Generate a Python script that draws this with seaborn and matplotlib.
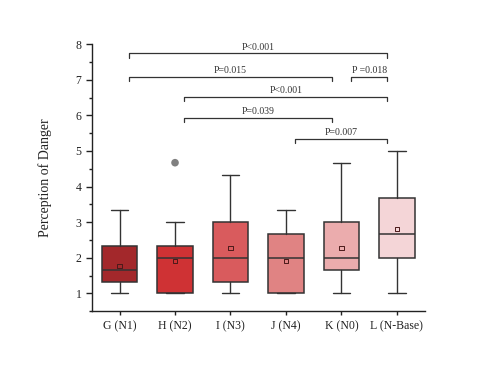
import numpy as np
import matplotlib.pyplot as plt
import seaborn as sns

# Style settings
sns.set_theme(style="ticks")
plt.rcParams['font.family'] = ['Liberation Serif', 'DejaVu Serif']

# --- data ---
groups = ["G (N1)", "H (N2)", "I (N3)", "J (N4)", "K (N0)", "L (N-Base)"]
whislo = [1.0, 1.0, 1.0, 1.0, 1.0, 1.0]
q1 = [1.33, 1.0, 1.33, 1.0, 1.67, 2.0]
med = [1.67, 2.0, 2.0, 2.0, 2.0, 2.67]
q3 = [2.33, 2.33, 3.0, 2.67, 3.0, 3.67]
whishi = [3.33, 3.0, 4.33, 3.33, 4.67, 5.0]
means = [1.78, 1.9, 2.28, 1.92, 2.28, 2.8]
outlier_group = [1]
outlier_value = [4.67]
box_colors = ["#A3282B", "#CF3234", "#D95B5D", "#E08383", "#EBACAD", "#F4D5D7"]

# significance brackets: (left group, right group, height, label)
pairs_left = [0, 0, 4, 1, 1, 3]
pairs_right = [5, 4, 5, 5, 4, 5]
pairs_y = [7.74, 7.08, 7.08, 6.52, 5.92, 5.33]
pairs_text = ["P<0.001", "P=0.015", "P =0.018", "P<0.001", "P=0.039", "P=0.007"]

fig = plt.figure(figsize=(4.99, 3.74), dpi=100)
ax = fig.add_axes([0.184, 0.168, 0.667, 0.714])

pos = np.arange(len(groups))
stats = []
for i in range(len(groups)):
    stats.append(dict(whislo=whislo[i], q1=q1[i], med=med[i], q3=q3[i],
                      whishi=whishi[i], fliers=[], label=groups[i]))

line_c = "#333333"
bp = ax.bxp(stats, positions=pos, widths=0.64, capwidths=0.32, patch_artist=True,
            showfliers=False,
            boxprops=dict(edgecolor=line_c, linewidth=1.1),
            medianprops=dict(color=line_c, linewidth=1.1),
            whiskerprops=dict(color=line_c, linewidth=1.0),
            capprops=dict(color=line_c, linewidth=1.0))
for patch, c in zip(bp["boxes"], box_colors):
    patch.set_facecolor(c)

# means and outliers
sns.scatterplot(x=pos, y=means, marker="s", s=9, facecolor="none",
                edgecolor="#4a1a1a", linewidth=0.7, ax=ax, zorder=5)
sns.scatterplot(x=outlier_group, y=outlier_value, color="#808080", s=30,
                edgecolor="none", ax=ax, zorder=5)

# brackets
inset = 0.17
leg = 0.12
for l, r, y, t in zip(pairs_left, pairs_right, pairs_y, pairs_text):
    x0, x1 = l + inset, r - inset
    ax.plot([x0, x0, x1, x1], [y - leg, y, y, y - leg], color=line_c, lw=0.9,
            clip_on=False)
    ax.text((x0 + x1) / 2, y + 0.05, t, ha="center", va="bottom", fontsize=7,
            color="#333333")

ax.set_xlim(-0.5, 5.5)
ax.set_ylim(0.5, 8)
ax.set_xticks(pos)
ax.set_xticklabels(groups, fontsize=8.5)
ax.set_yticks(range(1, 9))
ax.set_yticks(np.arange(0.5, 8.01, 0.5), minor=True)
ax.tick_params(axis="y", which="major", length=4, width=1, labelsize=8.5, colors="#222222")
ax.tick_params(axis="y", which="minor", length=2.5, width=1, colors="#222222")
ax.tick_params(axis="x", length=3, width=1, labelsize=8.5, colors="#222222")
ax.set_xlabel("")
ax.set_ylabel("Perception of Danger", fontsize=10, color="#222222", labelpad=17)
for s in ["top", "right"]:
    ax.spines[s].set_visible(False)
for s in ["left", "bottom"]:
    ax.spines[s].set_color("#222222")
    ax.spines[s].set_linewidth(1.0)

fig.savefig("out.png", dpi=100)
